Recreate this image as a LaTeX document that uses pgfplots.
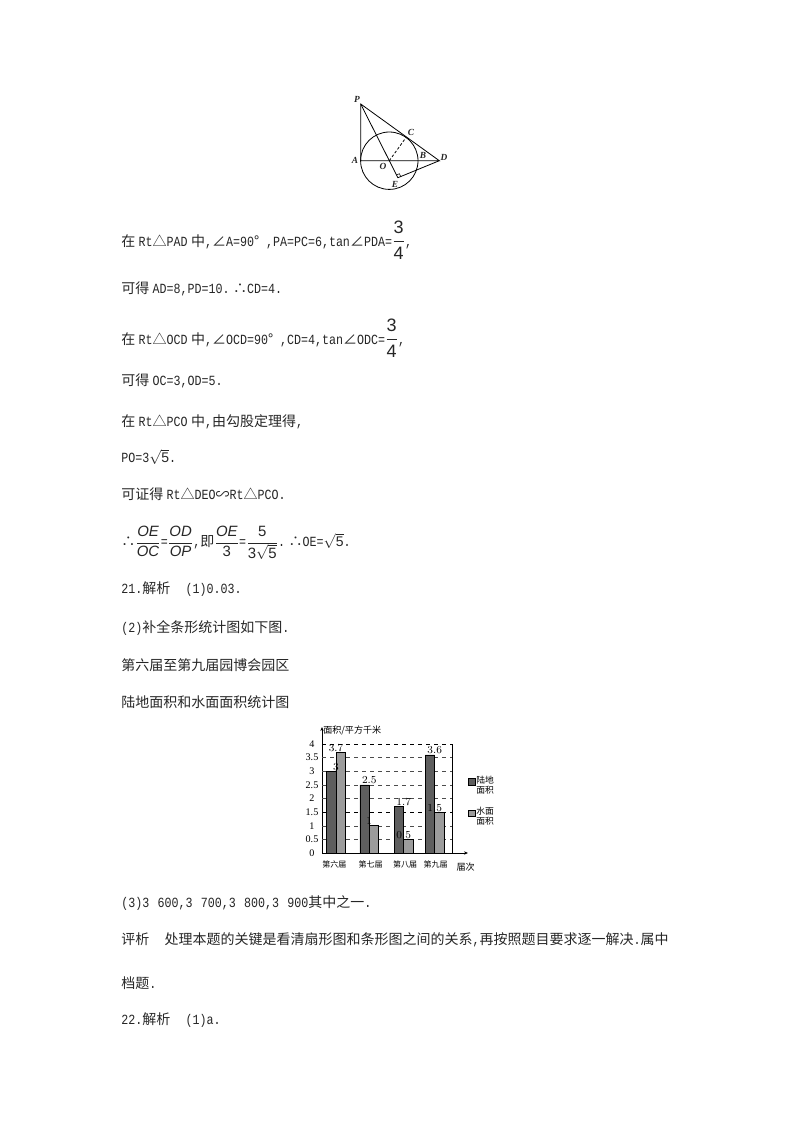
\documentclass[border=0pt]{standalone}
\usepackage{fontspec}
\usepackage{pgfplots}
\pgfplotsset{compat=1.18}
\usetikzlibrary{arrows.meta}
\setmainfont{Liberation Mono}[FakeStretch=0.833]
\setsansfont{Liberation Sans}
\newfontfamily\cjk{Noto Sans CJK SC}
\newfontfamily\tms{Liberation Serif}
\newcommand{\cn}[1]{{\cjk #1}}
\newcommand{\h}{\hspace{2.6pt}}
\newcommand{\fr}[2]{$\displaystyle\frac{\mbox{\sffamily\fontsize{11.2pt}{13pt}\selectfont #1}}{\mbox{\sffamily\fontsize{11.2pt}{13pt}\selectfont #2}}$}
\newcommand{\bigfr}[2]{{\fontsize{13.5pt}{15pt}\selectfont$\displaystyle\frac{\mbox{\sffamily #1}}{\mbox{\sffamily #2}}$}}
\newcommand{\rt}[1]{$\sqrt{\mbox{\sffamily #1}}$}
\definecolor{land}{HTML}{5E5E5E}
\definecolor{water}{HTML}{9C9C9C}

\begin{document}
\begin{tikzpicture}
\begin{scope}[x=0.75pt,y=-0.75pt,every node/.style={inner sep=0pt,anchor=west,font=\fontsize{10.5pt}{12pt}\selectfont,text=black!85}]
\path (0,0) rectangle (800,1132);
% geometry figure
\draw[line width=0.6pt] (389.3,160.7) circle (28.7);
\draw[line width=0.6pt] (360.7,104) -- (360.7,160.7) -- (439.3,160.7) -- cycle;
\draw[line width=0.6pt] (360.7,104) -- (397.9,177.7) -- (439.3,160.7);
\draw[line width=0.6pt,dashed,dash pattern=on 2pt off 1.5pt] (389.3,160.7) -- (406.4,137);
\draw[line width=0.4pt] (396.5,174.9) -- (399.4,173.7) -- (400.7,176.5);
\foreach \p/\q/\l in {357/99/P,411/132/C,355/160/A,423/155/B,444/157/D,383/166/O,395/184/E}
  \node[anchor=center,font=\tms\itshape\bfseries\fontsize{7pt}{8pt}\selectfont] at (\p,\q) {\l};
% text lines
\node at (121,240) {\cn{在}\h Rt\cn{△}PAD\h\cn{中},\cn{∠}A=90\cn{°}\hspace{5pt},PA=PC=6,tan\cn{∠}PDA=\bigfr{3}{4},};
\node at (121,289) {\cn{可得}\h AD=8,PD=10.\h\cn{∴}CD=4.};
\node at (121,338) {\cn{在}\h Rt\cn{△}OCD\h\cn{中},\cn{∠}OCD=90\cn{°}\hspace{5pt},CD=4,tan\cn{∠}ODC=\bigfr{3}{4},};
\node at (121,381) {\cn{可得}\h OC=3,OD=5.};
\node at (121,422) {\cn{在}\h Rt\cn{△}PCO\h\cn{中},\cn{由勾股定理得},};
\node at (121,457) {PO=3\rt{5}.};
\node at (121,494) {\cn{可证得}\h Rt\cn{△}DEO\cn{∽}Rt\cn{△}PCO.};
\node at (121,543) {\cn{∴}\fr{\itshape OE}{\itshape OC}=\fr{\itshape OD}{\itshape OP},\cn{即}\fr{\itshape OE}{3}=\fr{5}{3\rt{5}}.\h\cn{∴}OE=\rt{5}.};
\node at (121,589) {21.\cn{解析}\hspace{11.5pt}(1)0.03.};
\node at (121,628) {(2)\cn{补全条形统计图如下图}.};
\node at (121,665) {\cn{第六届至第九届园博会园区}};
\node at (121,702) {\cn{陆地面积和水面面积统计图}};
\node at (121,903) {(3)3\hspace{6.2pt}600,3\hspace{6.2pt}700,3\hspace{6.2pt}800,3\hspace{6.2pt}900\cn{其中之一}.};
\node at (121,940) {\cn{评析}\hspace{11.5pt}\cn{处理本题的关键是看清扇形图和条形图之间的关系},\cn{再按照题目要求逐一解决}.\cn{属中}};
\node at (121,983) {\cn{档题}.};
\node at (121,1020) {22.\cn{解析}\hspace{11.5pt}(1)a.};
\end{scope}
% bar chart, one x unit is one pixel of the page
\begin{axis}[
  at={(241.5pt,-639.75pt)}, anchor=origin,
  scale only axis, width=109.5pt, height=94.5pt,
  xmin=0, xmax=146, ymin=0, ymax=4.624,
  axis lines=left,
  axis line style={line width=0.6pt,-{Stealth[length=3pt,width=2.5pt]}},
  xtick={12.3,48.7,83,113.7},
  xticklabels={第六届,第七届,第八届,第九届},
  ytick={0,0.5,1,1.5,2,2.5,3,3.5,4},
  yticklabels={0,0.5,1,1.5,2,2.5,3,3.5,4},
  major tick length=0pt,
  xticklabel style={font=\cjk\fontsize{6pt}{6.5pt}\selectfont,inner sep=1pt,yshift=-4.7pt},
  yticklabel style={font=\tms\fontsize{7.6pt}{8pt}\selectfont,inner sep=0pt,anchor=center,xshift=-7.5pt},
  xlabel={届次},
  xlabel style={font=\cjk\fontsize{6.8pt}{7pt}\selectfont,at={(axis cs:143.7,0)},anchor=north,yshift=-4pt},
  ylabel={面积/平方千米},
  ylabel style={font=\cjk\fontsize{6.8pt}{7pt}\selectfont,rotate=-90,at={(axis cs:1,4.48)},anchor=west,inner sep=0pt},
  clip=false,
  legend style={draw=none,fill=none,at={(axis cs:142,2.95)},anchor=north west,
    nodes={align=left,font=\cjk\fontsize{6.6pt}{7.5pt}\selectfont,inner sep=0.5pt},
    row sep=8pt,column sep=0pt},
  legend image code/.code={\draw[#1,line width=0.5pt] (0pt,0.5pt) rectangle (5pt,5.5pt);},
  nodes near coords,
  every node near coord/.append style={font=\tms\fontsize{7.6pt}{8pt}\selectfont,inner sep=0.5pt,anchor=south},
]
\pgfplotsinvokeforeach{0.5,1,2,2.5,3,3.5}{
  \draw[dashed,line width=0.3pt,black!70] (axis cs:0,#1) -- (axis cs:130,#1);
}
\draw[dashed,line width=0.7pt] (axis cs:0,1.5) -- (axis cs:130,1.5);
\draw[dashed,line width=0.6pt] (axis cs:0,4) -- (axis cs:130,4);
\draw[line width=0.5pt] (axis cs:130,0) -- (axis cs:130,4);
\addplot[ybar,bar width=7pt,bar shift=-3.5pt,fill=land,draw=black,line width=0.5pt]
  coordinates {(14,3) (47.3,2.5) (81.7,1.7) (112.7,3.6)};
\addlegendentry{陆地\\面积}
\addplot[ybar,bar width=7pt,bar shift=3.5pt,fill=water,draw=black,line width=0.5pt]
  coordinates {(14,3.7) (47.3,1) (81.7,0.5) (112.7,1.5)};
\addlegendentry{水面\\面积}
\end{axis}
\end{tikzpicture}
\end{document}
